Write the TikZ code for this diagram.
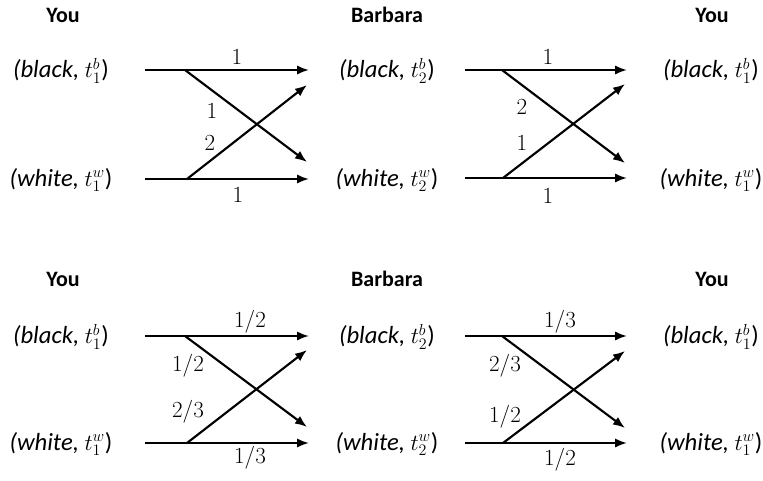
\documentclass[tikz,border=0pt]{standalone}
\usepackage{fontspec}
\setmainfont{Carlito}
\usetikzlibrary{arrows.meta}
\tikzset{
  move/.style={line width=1.6pt, -{Latex[length=9pt,width=7pt]}},
  player/.style={font=\fontsize{16.5}{19}\bfseries\selectfont},
  state/.style={font=\fontsize{18.5}{21}\selectfont},
  prob/.style={font=\fontsize{18}{21}\selectfont, inner sep=1pt},
}
\begin{document}
\begin{tikzpicture}[x=0.75pt, y=-0.75pt]
\useasboundingbox (0,0) rectangle (763,481);
% top row
\node[player] (you1) at (63,15) {You};
\node[player] (bar1) at (387,15) {Barbara};
\node[player] (you2) at (712,15) {You};
\node[state] (yb1) at (61,71) {\textit{(black,} $t^b_1$)}; %you black
\node[state] (yw1) at (61,180) {\textit{(white,} $t^w_1$)}; %you white
\node[state] (bb1) at (387,71) {\textit{(black,} $t^b_2$)}; %barbara black
\node[state] (bw1) at (387,180) {\textit{(white,} $t^w_2$)}; %barbara white
\node[state] (zb1) at (711,71) {\textit{(black,} $t^b_1$)};
\node[state] (zw1) at (711,180) {\textit{(white,} $t^w_1$)};
\coordinate (bs1) at (145,70);  \coordinate (be1) at (309,70);
\coordinate (ws1) at (145,179); \coordinate (we1) at (309,179);
\coordinate (bx1) at (185,70);  \coordinate (bd1) at (307,162);
\coordinate (wx1) at (187,179); \coordinate (wd1) at (307,85);
\draw[move] (bs1) -- (be1);
\draw[move] (ws1) -- (we1);
\draw[move] (bx1) -- (bd1);
\draw[move] (wx1) -- (wd1);
\node[prob] (p1) at (237,57) {$1$};
\node[prob] (p2) at (212,111) {$1$};
\node[prob] (p3) at (210,143) {$2$};
\node[prob] (p4) at (238,195) {$1$};
\coordinate (bs2) at (465,70);  \coordinate (be2) at (627,70);
\coordinate (ws2) at (465,178); \coordinate (we2) at (627,178);
\coordinate (bx2) at (502,70);  \coordinate (bd2) at (625,163);
\coordinate (wx2) at (503,178); \coordinate (wd2) at (625,84);
\draw[move] (bs2) -- (be2);
\draw[move] (ws2) -- (we2);
\draw[move] (bx2) -- (bd2);
\draw[move] (wx2) -- (wd2);
\node[prob] (q1) at (548,57) {$1$};
\node[prob] (q2) at (522,107) {$2$};
\node[prob] (q3) at (522,143) {$1$};
\node[prob] (q4) at (548,196) {$1$};
% bottom row
\node[player] (you3) at (63,279) {You};
\node[player] (bar2) at (387,279) {Barbara};
\node[player] (you4) at (712,279) {You};
\node[state] (yb2) at (61,337) {\textit{(black,} $t^b_1$)};
\node[state] (yw2) at (61,444) {\textit{(white,} $t^w_1$)};
\node[state] (bb2) at (387,337) {\textit{(black,} $t^b_2$)};
\node[state] (bw2) at (387,444) {\textit{(white,} $t^w_2$)};
\node[state] (zb2) at (711,337) {\textit{(black,} $t^b_1$)};
\node[state] (zw2) at (711,444) {\textit{(white,} $t^w_1$)};
\coordinate (bs3) at (145,336); \coordinate (be3) at (309,336);
\coordinate (ws3) at (145,443); \coordinate (we3) at (309,443);
\coordinate (bx3) at (185,336); \coordinate (bd3) at (307,427);
\coordinate (wx3) at (187,443); \coordinate (wd3) at (307,350);
\draw[move] (bs3) -- (be3);
\draw[move] (ws3) -- (we3);
\draw[move] (bx3) -- (bd3);
\draw[move] (wx3) -- (wd3);
\node[prob] (r1) at (250,322) {$1/2$};
\node[prob] (r2) at (188,366) {$1/2$};
\node[prob] (r3) at (188,412) {$2/3$};
\node[prob] (r4) at (250,458) {$1/3$};
\coordinate (bs4) at (465,336); \coordinate (be4) at (627,336);
\coordinate (ws4) at (465,443); \coordinate (we4) at (627,443);
\coordinate (bx4) at (502,336); \coordinate (bd4) at (625,428);
\coordinate (wx4) at (503,443); \coordinate (wd4) at (625,351);
\draw[move] (bs4) -- (be4);
\draw[move] (ws4) -- (we4);
\draw[move] (bx4) -- (bd4);
\draw[move] (wx4) -- (wd4);
\node[prob] (s1) at (560,322) {$1/3$};
\node[prob] (s2) at (505,366) {$2/3$};
\node[prob] (s3) at (505,417) {$1/2$};
\node[prob] (s4) at (560,460) {$1/2$};
\end{tikzpicture}
\end{document}
